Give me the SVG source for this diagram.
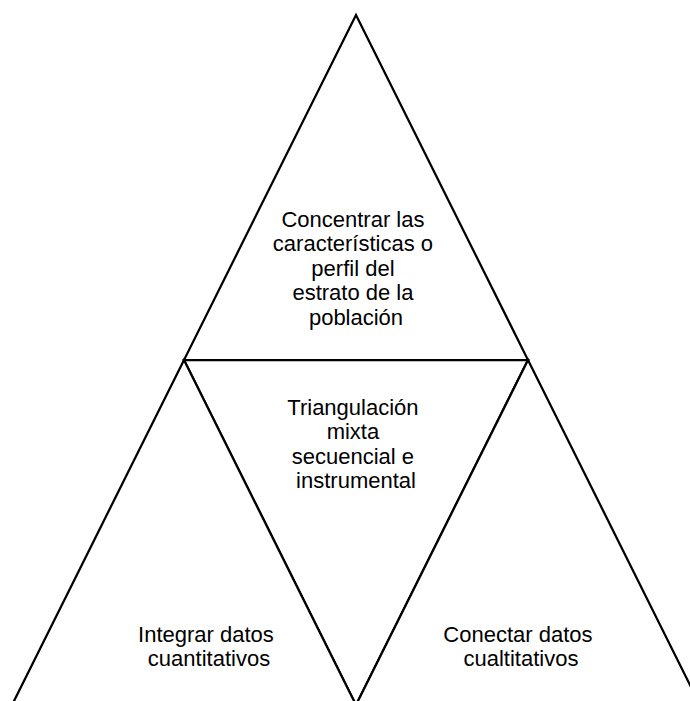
<svg xmlns="http://www.w3.org/2000/svg" width="690" height="701" viewBox="0 0 690 701">
  <style>
    .tri { fill: #ffffff; stroke: #000000; stroke-width: 2.25; stroke-linejoin: miter; }
    .lbl { font-family: "Liberation Sans", Arial, sans-serif; font-size: 22px; fill: #000000; text-anchor: middle; }
  </style>
  <rect x="0" y="0" width="690" height="701" fill="#ffffff"/>
  <g id="node-top">
    <polygon class="tri" points="356,15 528,360 184,360"/>
    <text class="lbl">
      <tspan x="356" y="227">Concentrar las</tspan>
      <tspan x="356" y="251.4">características o</tspan>
      <tspan x="356" y="275.8">perfil del</tspan>
      <tspan x="356" y="300.2">estrato de la</tspan>
      <tspan x="356" y="324.6">población</tspan>
    </text>
  </g>
  <g id="node-center">
    <polygon class="tri" points="184,360 528,360 356,705"/>
    <text class="lbl">
      <tspan x="356" y="415">Triangulación</tspan>
      <tspan x="356" y="439.4">mixta</tspan>
      <tspan x="356" y="463.8">secuencial e</tspan>
      <tspan x="356" y="488.2">instrumental</tspan>
    </text>
  </g>
  <g id="node-left">
    <polygon class="tri" points="184,360 356,705 12,705"/>
    <text class="lbl">
      <tspan x="209" y="642">Integrar datos</tspan>
      <tspan x="209" y="666.4">cuantitativos</tspan>
    </text>
  </g>
  <g id="node-right">
    <polygon class="tri" points="528,360 700,705 356,705"/>
    <text class="lbl">
      <tspan x="521" y="642">Conectar datos</tspan>
      <tspan x="521" y="666.4">cualtitativos</tspan>
    </text>
  </g>
  <g id="connectors"></g>
</svg>
